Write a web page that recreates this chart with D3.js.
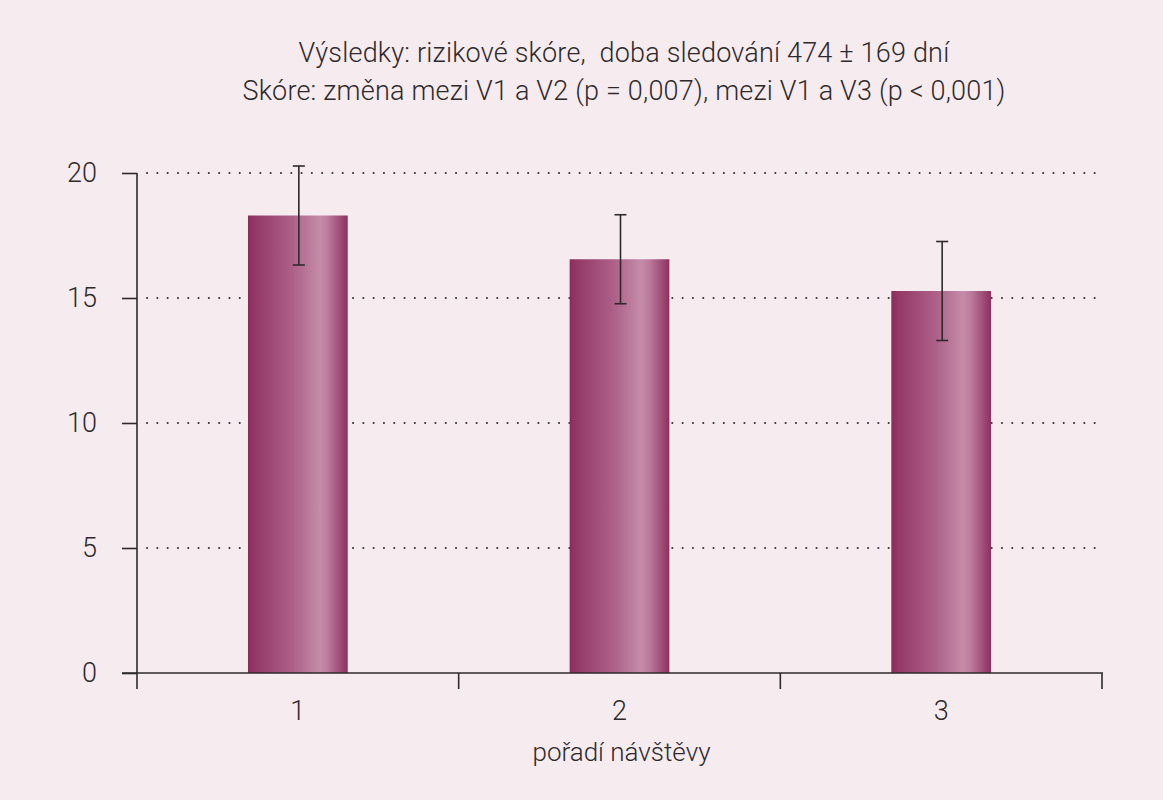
<!DOCTYPE html>
<html lang="cs">
<head>
<meta charset="UTF-8">
<title>Výsledky: rizikové skóre</title>
<style>
    html, body { margin: 0; padding: 0; background: #f6ecf0; }
    #chart { width: 1163px; height: 800px; }
    text { font-family: "Roboto", "Liberation Sans", sans-serif; font-weight: 300; fill: #2e2a2c; }
</style>
</head>
<body>
<div id="chart"></div>
<script src="https://d3js.org/d3.v7.min.js"></script>
<script>
    // data
    const visits = ["1", "2", "3"];
    const scores = [18.3, 16.55, 15.28];
    const errors = [1.98, 1.78, 1.98];
    const yTicks = [0, 5, 10, 15, 20];
    const titleLines = [
        "Výsledky: rizikové skóre,  doba sledování 474 ± 169 dní",
        "Skóre: změna mezi V1 a V2 (p = 0,007), mezi V1 a V3 (p < 0,001)"
    ];
    const xLabel = "pořadí návštěvy";

    const W = 1163, H = 800;
    const margin = { top: 173, right: 61, bottom: 127, left: 137 };
    const width = W - margin.left - margin.right,
        height = H - margin.top - margin.bottom;

    const svg = d3.select("#chart").append("svg")
        .attr("width", W)
        .attr("height", H);

    svg.append("rect").attr("width", W).attr("height", H).attr("fill", "#f6ecf0");

    // bar gradient
    const grad = svg.append("defs").append("linearGradient")
        .attr("id", "barGrad")
        .attr("x1", "0%").attr("x2", "100%").attr("y1", "0%").attr("y2", "0%");
    [[0, "#8c2b5c"], [0.08, "#953a68"], [0.45, "#ad6189"], [0.72, "#c58ca9"], [0.8, "#bb7b9c"], [1, "#8e2f5f"]]
        .forEach(s => grad.append("stop").attr("offset", s[0]).attr("stop-color", s[1]));

    const g = svg.append("g").attr("transform", `translate(${margin.left},${margin.top})`);

    const x = d3.scaleBand().domain(visits).range([0, width]).paddingInner(0.69).paddingOuter(0.345);
    const y = d3.scaleLinear().domain([0, 20]).range([height, 0]);

    // dotted grid
    g.append("g")
        .selectAll("line")
        .data(yTicks.filter(d => d > 0))
        .join("line")
        .attr("x1", 10).attr("x2", width)
        .attr("y1", d => y(d)).attr("y2", d => y(d))
        .attr("stroke", "#3a3436")
        .attr("stroke-width", 2)
        .attr("stroke-linecap", "round")
        .attr("stroke-dasharray", "0.1 10.2");

    // bars
    g.selectAll(".bar")
        .data(visits)
        .join("rect")
        .attr("class", "bar")
        .attr("x", d => x(d))
        .attr("width", x.bandwidth())
        .attr("y", (d, i) => y(scores[i]))
        .attr("height", (d, i) => y(0) - y(scores[i]))
        .attr("fill", "url(#barGrad)");

    // error bars
    const eb = g.selectAll(".err")
        .data(visits)
        .join("g")
        .attr("class", "err")
        .attr("transform", d => `translate(${x(d) + x.bandwidth() / 2 + 1},0)`);
    eb.append("line")
        .attr("y1", (d, i) => y(scores[i] + errors[i]))
        .attr("y2", (d, i) => y(scores[i] - errors[i]))
        .attr("stroke", "#2e2a2c").attr("stroke-width", 1.6);
    eb.selectAll(".cap")
        .data((d, i) => [scores[i] + errors[i], scores[i] - errors[i]])
        .join("line")
        .attr("class", "cap")
        .attr("x1", -6).attr("x2", 6)
        .attr("y1", v => y(v)).attr("y2", v => y(v))
        .attr("stroke", "#2e2a2c").attr("stroke-width", 1.6);

    // y axis
    const yAxis = g.append("g")
        .call(d3.axisLeft(y).tickValues(yTicks).tickSize(15).tickPadding(25));
    yAxis.select(".domain").remove();
    yAxis.append("line").attr("y1", 0).attr("y2", height).attr("stroke", "#2e2a2c").attr("stroke-width", 1.6);
    yAxis.selectAll(".tick line").attr("stroke", "#2e2a2c").attr("stroke-width", 1.6);
    yAxis.selectAll(".tick text").style("font-size", "27px").attr("fill", "#2e2a2c");

    // x axis
    const xAxis = g.append("g")
        .attr("transform", `translate(0,${height})`)
        .call(d3.axisBottom(x).tickSize(0).tickPadding(28));
    xAxis.select(".domain").remove();
    xAxis.selectAll(".tick text").style("font-size", "27px").attr("fill", "#2e2a2c");
    xAxis.append("line").attr("x1", -15).attr("x2", width + 1)
        .attr("stroke", "#2e2a2c").attr("stroke-width", 1.6);
    // boundary ticks between categories
    const step = x.step();
    xAxis.selectAll(".sep")
        .data(d3.range(visits.length + 1))
        .join("line")
        .attr("class", "sep")
        .attr("x1", i => i * step).attr("x2", i => i * step)
        .attr("y1", 0).attr("y2", 16)
        .attr("stroke", "#2e2a2c").attr("stroke-width", 1.6);

    // axis title
    g.append("text")
        .attr("x", width / 2 + 2)
        .attr("y", height + 88)
        .attr("text-anchor", "middle")
        .style("font-size", "26px")
        .text(xLabel);

    // chart title
    svg.selectAll(".title")
        .data(titleLines)
        .join("text")
        .attr("class", "title")
        .attr("x", 624)
        .attr("y", (d, i) => 62 + i * 38)
        .attr("text-anchor", "middle")
        .style("font-size", "27px")
        .style("letter-spacing", "0.2px")
        .style("white-space", "pre")
        .text(d => d);
</script>
</body>
</html>
